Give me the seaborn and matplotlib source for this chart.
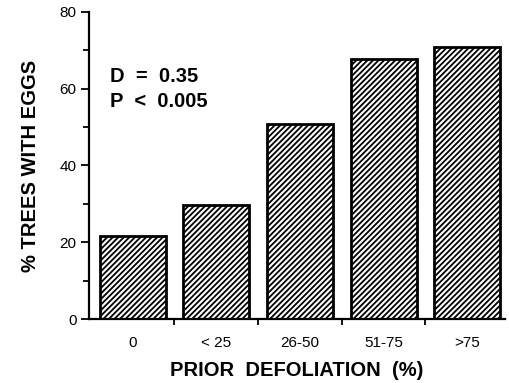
import matplotlib
matplotlib.use("Agg")
import matplotlib.pyplot as plt
import seaborn as sns
import pandas as pd
from matplotlib.ticker import MultipleLocator

categories = ["0", "< 25", "26-50", "51-75", ">75"]
values = [21.6, 29.7, 50.8, 67.8, 70.8]

sns.set_style("ticks")
plt.rcParams['font.family'] = ['Liberation Sans', 'DejaVu Sans']
plt.rcParams['hatch.linewidth'] = 1.3
for k in ['text.color', 'axes.labelcolor', 'xtick.color', 'ytick.color', 'axes.edgecolor']:
    plt.rcParams[k] = 'black'

df = pd.DataFrame({"cat": categories, "val": values})

fig = plt.figure(figsize=(5.09, 3.83), dpi=100)
ax = fig.add_axes([0.175, 0.167, 0.817, 0.802])
sns.barplot(data=df, x="cat", y="val", ax=ax, width=0.79,
            color="white", edgecolor="black", linewidth=2.0, hatch="//////",
            saturation=1)

ax.set_xlim(-0.52, 4.45)
ax.set_ylim(0, 80)
ax.yaxis.set_major_locator(MultipleLocator(20))
ax.yaxis.set_minor_locator(MultipleLocator(10))
ax.set_xticks(range(len(categories)))
ax.set_xticklabels(categories)
ax.set_xticks([0.5, 1.5, 2.5, 3.5], minor=True)
ax.tick_params(axis='x', which='major', length=0, pad=12, labelsize=11)
ax.tick_params(axis='x', which='minor', length=4, width=1.3, direction='out')
ax.tick_params(axis='y', which='major', length=6, width=1.3, labelsize=11, pad=3)
ax.tick_params(axis='y', which='minor', length=4, width=1.3)
for s in ["top", "right"]:
    ax.spines[s].set_visible(False)
for s in ["left", "bottom"]:
    ax.spines[s].set_linewidth(1.6)

ax.set_xlabel("PRIOR  DEFOLIATION  (%)", fontsize=14.5, fontweight='bold', labelpad=8)
ax.set_ylabel("% TREES WITH EGGS", fontsize=14.5, fontweight='bold', labelpad=14)

ax.text(0.05, 0.789, "D  =  0.35", transform=ax.transAxes, fontsize=14.5, fontweight='bold', va='center')
ax.text(0.05, 0.708, "P  <  0.005", transform=ax.transAxes, fontsize=14.5, fontweight='bold', va='center')

fig.savefig("out.png", dpi=100)
